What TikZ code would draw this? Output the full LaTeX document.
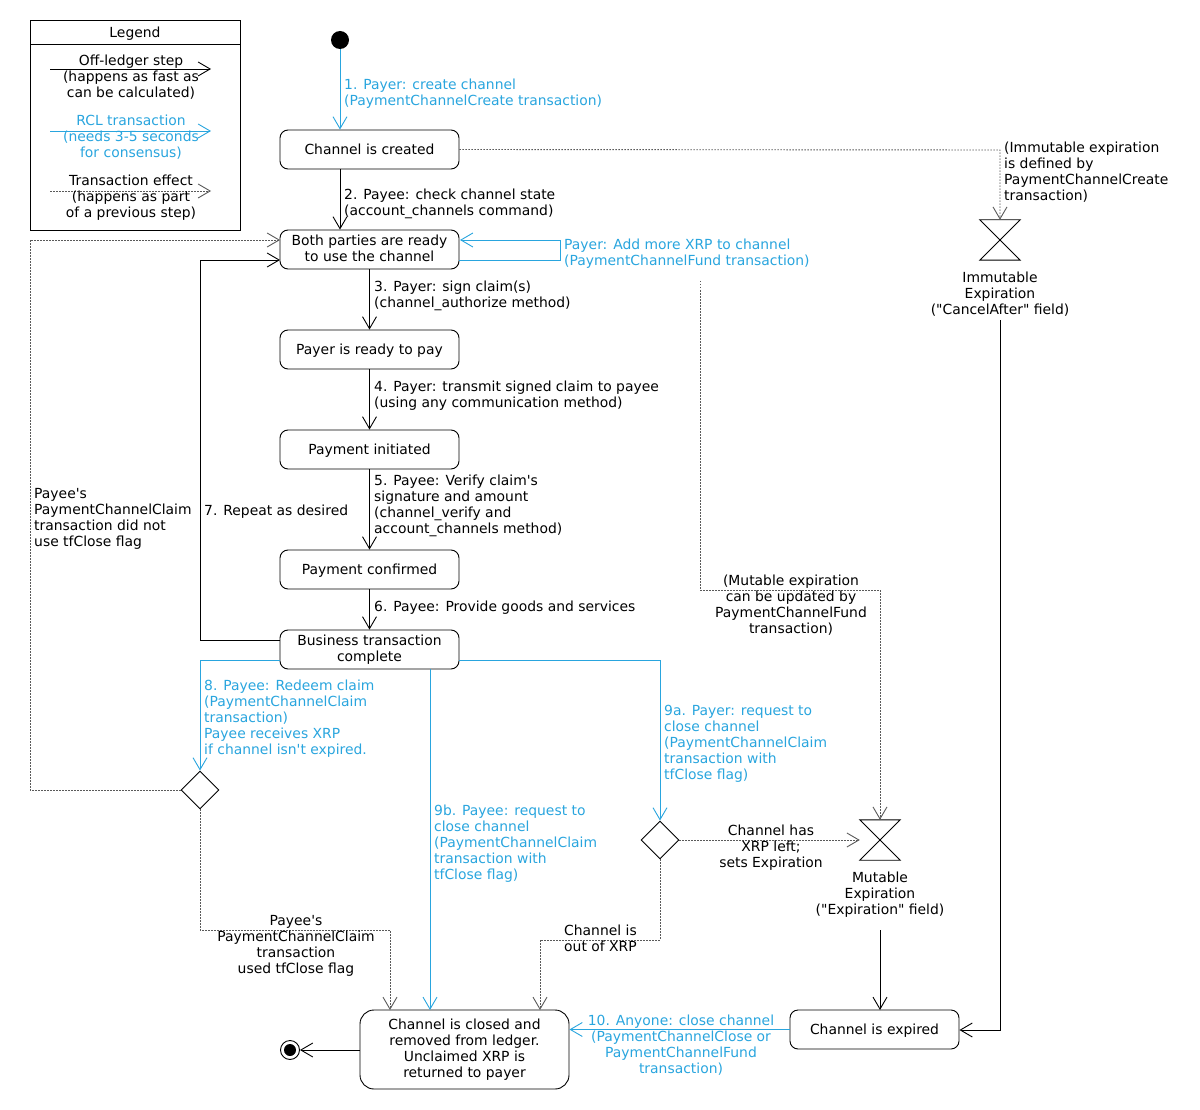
\documentclass[tikz,border=0pt]{standalone}
\usepackage{fontspec}
\setmainfont{DejaVu Sans}[Ligatures=TeXOff]
\usetikzlibrary{arrows.meta,shapes.geometric}
\definecolor{rcl}{RGB}{41,165,222}
\definecolor{dotc}{RGB}{90,90,90}
\newcommand{\fnt}{\fontsize{13.9}{16}\selectfont}
\begin{document}
\begin{tikzpicture}[x=1pt,y=-1pt,
  every node/.style={font=\fnt},
  >={Straight Barb[length=12pt,width=14pt]},
  ln/.style={line width=0.9pt,black},
  bl/.style={line width=0.9pt,rcl},
  dt/.style={line width=0.9pt,dotc,dash pattern=on 1.5pt off 1.5pt},
  stbox/.style={draw,line width=0.9pt,rounded corners=8pt,minimum width=179pt,minimum height=39pt,inner sep=0pt,align=center,execute at begin node={\rule{0pt}{13.8pt}},execute at end node={\rule[-3.4pt]{0pt}{0pt}}},
  lbl/.style={inner sep=0pt,anchor=north west,align=left,execute at begin node={\rule{0pt}{12.5pt}}},
  clbl/.style={inner sep=0pt,anchor=north,align=center,execute at begin node={\rule{0pt}{12.5pt}}},
  dmd/.style={diamond,draw,line width=0.9pt,minimum width=38pt,minimum height=38pt,inner sep=0pt},
  hgbox/.style={minimum width=40pt,minimum height=40pt,inner sep=0pt}
]
\useasboundingbox (0,0) rectangle (1200,1110);

% Legend
\node[draw,line width=0.9pt,anchor=north west,minimum width=210pt,minimum height=210pt,inner sep=0pt] (legend) at (30,20) {};
\coordinate (lgl) at (30,44);
\coordinate (lgr) at (240,44);
\draw[ln] (lgl) -- (lgr);
\node[inner sep=0pt] (legtitle) at (135,33.5) {Legend};
\coordinate (la1) at (50,69); \coordinate (lb1) at (211,69);
\coordinate (la2) at (50,131); \coordinate (lb2) at (211,131);
\coordinate (la3) at (50,191); \coordinate (lb3) at (211,191);
\draw[ln,->] (la1) -- (lb1);
\draw[bl,->] (la2) -- (lb2);
\draw[dt,->] (la3) -- (lb3);
\node[clbl] (lt1) at (131,55) {Off-ledger step\\(happens as fast as\\can be calculated)};
\node[clbl,text=rcl] (lt2) at (131,115) {RCL transaction\\(needs 3-5 seconds\\for consensus)};
\node[clbl] (lt3) at (131,175) {Transaction effect\\(happens as part\\of a previous step)};

% Start
\node[circle,fill=black,minimum size=18pt,inner sep=0pt] (start) at (340,40) {};

% State boxes
\node[stbox] (created) at (369.5,149.5) {Channel is created};
\node[stbox] (ready) at (369.5,249.5) {Both parties are ready\\to use the channel};
\node[stbox] (payer) at (369.5,349.5) {Payer is ready to pay};
\node[stbox] (init) at (369.5,449.5) {Payment initiated};
\node[stbox] (conf) at (369.5,569.5) {Payment confirmed};
\node[stbox] (biz) at (369.5,649.5) {Business transaction\\complete};
\node[stbox,minimum width=169pt] (expired) at (874.5,1029.5) {Channel is expired};
\node[stbox,minimum width=209pt,minimum height=79pt,rounded corners=14pt] (closed) at (464.5,1049.5) {Channel is closed and\\removed from ledger.\\Unclaimed XRP is\\returned to payer};

% End
\node[circle,draw,line width=0.9pt,minimum size=19pt,inner sep=0pt] (end) at (290,1050) {};
\node[circle,fill=black,minimum size=12pt,inner sep=0pt] (endin) at (end) {};

% Diamonds
\node[dmd] (d1) at (200,790) {};
\node[dmd] (d2) at (660,840) {};

% Hourglasses
\node[hgbox] (imm) at (1000,240) {};
\draw[ln] (imm.north west) -- (imm.north east) -- (imm.south west) -- (imm.south east) -- cycle;
\node[hgbox] (mut) at (880,840) {};
\draw[ln] (mut.north west) -- (mut.north east) -- (mut.south west) -- (mut.south east) -- cycle;
\node[clbl] (immlbl) at (1000,272) {Immutable\\Expiration\\("CancelAfter" field)};
\node[clbl] (mutlbl) at (880,872) {Mutable\\Expiration\\("Expiration" field)};

% Connectors
\draw[bl,->] (start) -- (start |- created.north);
\draw[ln,->] (start |- created.south) -- (start |- ready.north);
\node[lbl,text=rcl] (t1) at (344,79) {1. Payer: create channel\\(PaymentChannelCreate transaction)};
\node[lbl] (t2) at (344,189) {2. Payee: check channel state\\(account\_channels command)};

\coordinate (f1) at (459,260); \coordinate (f2) at (560,260);
\coordinate (f3) at (560,240); \coordinate (f4) at (460,240);
\draw[bl,->] (f1) -- (f2) -- (f3) -- (f4);
\node[lbl,text=rcl] (tf) at (564,239) {Payer: Add more XRP to channel\\(PaymentChannelFund transaction)};

\coordinate (c1) at (1000,150);
\draw[dt,->] (created.east) -- (c1) -- (imm.north);
\node[lbl] (tim) at (1004,142) {(Immutable expiration\\is defined by\\PaymentChannelCreate\\transaction)};

\draw[ln,->] (ready) -- (payer);
\node[lbl] (t3) at (374,281) {3. Payer: sign claim(s)\\(channel\_authorize method)};
\draw[ln,->] (payer) -- (init);
\node[lbl] (t4) at (374,381) {4. Payer: transmit signed claim to payee\\(using any communication method)};
\draw[ln,->] (init) -- (conf);
\node[lbl] (t5) at (374,475) {5. Payee: Verify claim's\\signature and amount\\(channel\_verify and\\account\_channels method)};
\draw[ln,->] (conf) -- (biz);
\node[lbl] (t6) at (374,599) {6. Payee: Provide goods and services};

\coordinate (r1) at (280,640); \coordinate (r2) at (200,640);
\coordinate (r3) at (200,260); \coordinate (r4) at (280,260);
\draw[ln,->] (r1) -- (r2) -- (r3) -- (r4);
\node[lbl] (t7) at (204,503) {7. Repeat as desired};

\coordinate (m1) at (700,281); \coordinate (m2) at (700,590); \coordinate (m3) at (880,590);
\draw[dt,->] (m1) -- (m2) -- (m3) -- (mut.north);
\node[clbl] (tmut) at (791,575) {(Mutable expiration\\can be updated by\\PaymentChannelFund\\transaction)};

\coordinate (e1) at (280,660); \coordinate (e2) at (200,660);
\draw[bl,->] (e1) -- (e2) -- (d1.north);
\node[lbl,text=rcl] (t8) at (204,680) {8. Payee: Redeem claim\\(PaymentChannelClaim\\transaction)\\Payee receives XRP\\if channel isn't expired.};

\coordinate (g1) at (30,790); \coordinate (g2) at (30,240); \coordinate (g3) at (280,240);
\draw[dt,->] (d1.west) -- (g1) -- (g2) -- (g3);
\node[lbl] (tnot) at (34,488) {Payee's\\PaymentChannelClaim\\transaction did not\\use tfClose flag};

\coordinate (h1) at (200,930); \coordinate (h2) at (390,930); \coordinate (h3) at (390,1010);
\draw[dt,->] (d1.south) -- (h1) -- (h2) -- (h3);
\node[clbl] (tused) at (296,915) {Payee's\\PaymentChannelClaim\\transaction\\used tfClose flag};

\coordinate (k1) at (430,669); \coordinate (k2) at (430,1010);
\draw[bl,->] (k1) -- (k2);
\node[lbl,text=rcl] (t9b) at (434,805) {9b. Payee: request to\\close channel\\(PaymentChannelClaim\\transaction with\\tfClose flag)};

\coordinate (a1) at (459,660); \coordinate (a2) at (660,660);
\draw[bl,->] (a1) -- (a2) -- (d2.north);
\node[lbl,text=rcl] (t9a) at (664,705) {9a. Payer: request to\\close channel\\(PaymentChannelClaim\\transaction with\\tfClose flag)};

\draw[dt,->] (d2.east) -- (mut.west);
\node[clbl] (thas) at (771,825) {Channel has\\XRP left;\\sets Expiration};

\coordinate (o1) at (660,940); \coordinate (o2) at (540,940); \coordinate (o3) at (540,1010);
\draw[dt,->] (d2.south) -- (o1) -- (o2) -- (o3);
\node[lbl] (tout) at (564,925) {Channel is\\out of XRP};

\coordinate (x1) at (1000,320); \coordinate (x2) at (1000,1030);
\draw[ln,->] (x1) -- (x2) -- (expired.east |- x2);
\coordinate (y1) at (880,930); \coordinate (y2) at (880,1010);
\draw[ln,->] (y1) -- (y2);

\draw[bl,->] (expired.west) -- (closed.east |- expired.west);
\node[clbl,text=rcl] (t10) at (681,1015) {10. Anyone: close channel\\(PaymentChannelClose or\\PaymentChannelFund\\transaction)};

\draw[ln,->] (closed.west |- end) -- (end);
\end{tikzpicture}
\end{document}
